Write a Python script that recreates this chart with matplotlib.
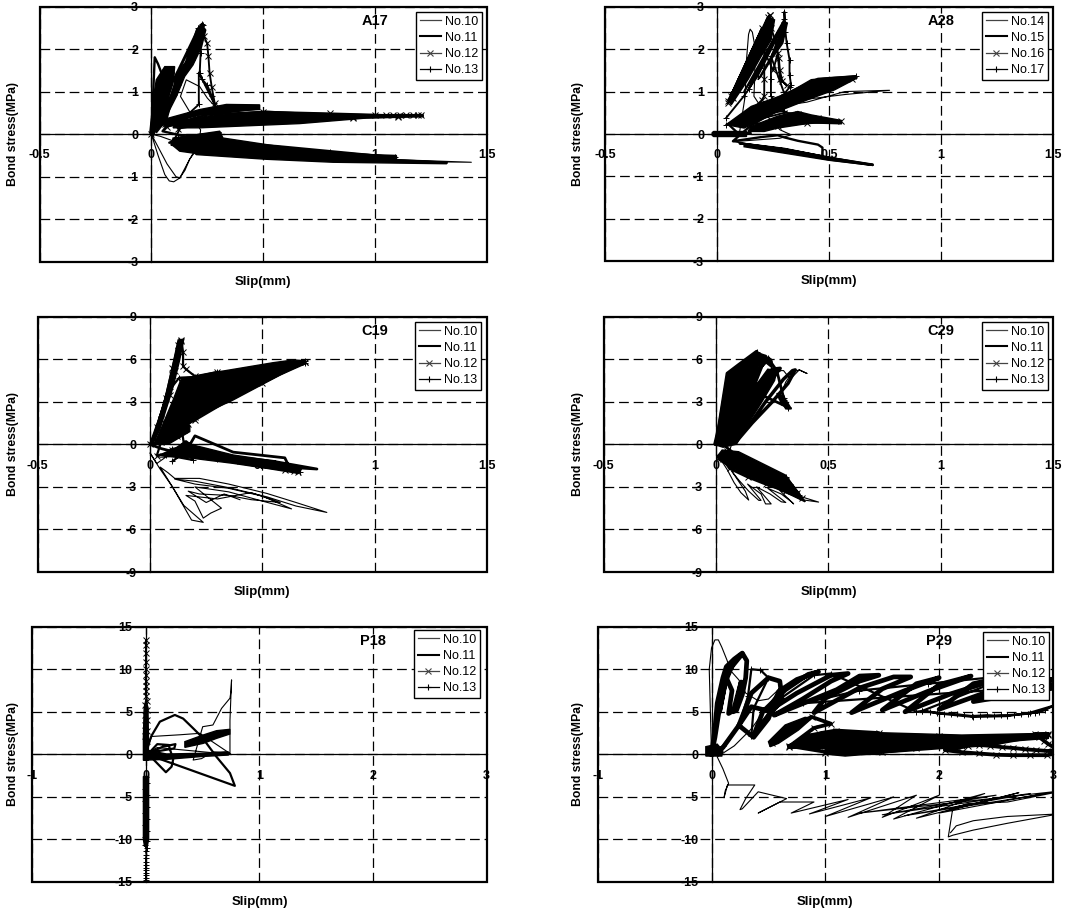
import matplotlib
matplotlib.use("Agg")
import matplotlib.pyplot as plt
from matplotlib.lines import Line2D
from matplotlib.patches import Rectangle

plt.rcParams['font.family'] = ['Liberation Sans', 'DejaVu Sans']
plt.rcParams['axes.unicode_minus'] = False
plt.rcParams['lines.scale_dashes'] = False

W, H = 1089, 913

# ---- A17
a17_x10 = [0, .03, .06, .08, .10, .127, .15, .171, .19, .24, .12, .04, 0, .02, .07, .11, .127, .171, .19, .45, .8, 1.1, 1.43, 1.1, .8, .45, .21, .22, .13, .156, .216, .25, .28]
a17_y10 = [0, -.5, -.95, -1.1, -1.12, -1.03, -.85, -.59, -.42, -.3, -.2, -.05, 0, -.2, -.7, -1.0, -1.03, -.59, -.45, -.52, -.6, -.64, -.66, -.6, -.53, -.45, -.38, .1, .89, 1.28, 1.12, .85, .68]
a17_x11 = [0, .015, .03, .055, .02, .045, .06, .03, .065, .08, .04, .09, .1, .05, .12, .06, .2, .48, .2, .07, .25, .47, .25, .07, .05, .15, .31, .12, .08, .3, .56, .9, 1.095, .9, .56, .3, .09, .3, .56, .9, 1.32, .9, .56, .3, .127]
a17_y11 = [0, 1.81, 1.65, 1.3, .4, 1.4, 1.55, .4, 1.5, 1.55, .4, 1.55, 1.45, .35, 1.4, .2, .48, .66, .52, .28, .52, .6, .46, .2, .07, -.05, .03, -.12, -.2, -.18, -.28, -.45, -.55, -.48, -.36, -.27, -.25, -.32, -.44, -.56, -.67, -.6, -.5, -.38, -.37]
a17_x12 = [0, .05, .1, .15, .224, .235, .249, .255, .26, .27, .283, .29, .06, .2, .5, .8, 1.0, 1.05, 1.08, 1.11, 1.14, 1.17, 1.19, 1.207, 1.1, .8, .5, .2, .07, .3, .6, .9, 1.1, .9, .6, .3, .12]
a17_y12 = [0, .5, 1.0, 1.6, 2.5, 2.3, 2.14, 1.83, 1.45, 1.1, .73, .6, .25, .45, .53, .49, .46, .45, .45, .45, .45, .45, .445, .445, .43, .43, .46, .36, .18, .38, .42, .41, .41, .38, .36, .3, .13]
a17_x13 = [0, .1, .224, .12, .05, .14, .21, .1, .07, .11, .22, .16, .23, .18, .215, .225, .224, .22, .216, .225, .25, .27, .28, .212, .212, .16, .1, .5, .8, 1.09, .8, .5, .2, .12]
a17_y13 = [0, .95, 2.55, 1.15, .3, 1.5, 2.5, 1.3, 1.05, 1.35, 2.55, 1.55, 2.58, 1.75, 2.35, 2.6, 2.5, 1.9, 1.44, 1.3, 1.15, .9, .73, 1.45, .7, .45, -.15, -.28, -.42, -.53, -.47, -.35, -.22, -.1]
# dense overplotted regions traced as outlines
a17_rise_x = [.022, .067, .097, .112, .156, .201, .224, .243, .224, .186, .149, .112, .082, .052, .022]
a17_rise_y = [.07, .66, .97, 1.44, 1.71, 2.45, 2.59, 2.45, 2.05, 1.63, 1.36, .89, .58, .23, .03]
a17_fan_x = [-.007, .01, .022, .06, .104, .097, .067, .037, .007]
a17_fan_y = [.03, .89, 1.28, 1.59, 1.59, 1.2, .73, .27, -.05]
a17_up_x = [.022, .216, .335, .484, .484, .335, .216, .037]
a17_up_y = [.3, .58, .7, .69, .58, .54, .46, .19]
a17_mid_x = [.112, .29, .514, .663, .961, 1.215, 1.215, .961, .663, .44, .216, .097]
a17_mid_y = [.3, .46, .54, .5, .46, .46, .41, .38, .25, .2, .15, .15]
a17_neg_x = [.097, .305, .32, .559, .812, 1.095, 1.095, 1.32, 1.32, .812, .514, .201, .194, .127, .09]
a17_neg_y = [-.09, .07, -.09, -.28, -.45, -.5, -.61, -.66, -.695, -.66, -.59, -.48, -.45, -.4, -.24]

# ---- A28
a28_x14 = [0, .1, .125, .13, .14, .147, .157, .167, .168, .164, .2, .4, .57, .77, .57, .4, .2, .28, .33, .28, .07, .35, .695]
a28_y14 = [0, .05, .9, 1.7, 2.35, 2.47, 2.4, 2.1, 1.4, .89, .6, .75, 1.0, 1.03, .93, .82, .55, .1, -.02, -.1, -.18, -.4, -.73]
a28_x15 = [-.02, .12, -.02, .15, -.02, .1, .05, .3, .45, .62, .45, .3, .1, .3, .45, .62, .45, .3, .15, .07, .2, .27, .3, .36, .4, .45, .47, .47, .465, .3, .1, .3, .5, .695, .5, .3, .13]
a28_y15 = [0, 0, .03, .02, -.03, -.02, .23, .93, 1.3, 1.36, 1.2, .86, .25, .8, 1.1, 1.33, .95, .65, .2, -.17, -.07, -.03, -.08, -.16, -.2, -.25, -.32, -.5, -.52, -.36, -.22, -.35, -.56, -.73, -.6, -.4, -.25]
a28_x16 = [.048, .234, .06, .2, .05, .225, .07, .234, .24, .26, .275, .28, .29, .31, .28, .27, .25, .21, .21, .21, .2, .1, .27, .4, .553, .45, .36, .3, .15, .3, .45, .6, .45, .3]
a28_y16 = [.73, 2.8, .9, 2.5, .78, 2.75, .85, 2.8, 2.5, 2.2, 1.8, 1.5, 1.25, 1.15, 1.3, 1.9, 1.5, 1.95, 1.3, .9, .8, .3, .2, .25, .3, .38, .48, .5, .3, .72, 1.02, 1.3, 1.1, .75]
a28_x17 = [.04, .12, .18, .3, .19, .14, .25, .3, .2, .12, .3, .3, .305, .31, .323, .323, .33, .323, .30, .24, .24, .24, .3, .15, .04, .3, .45, .62, .45, .3, .15]
a28_y17 = [.38, .9, 1.36, 2.61, 1.55, 1.05, 2.2, 2.65, 1.65, 1.0, 2.7, 2.88, 2.4, 2.15, 1.75, 1.4, 1.15, 1.1, .95, 1.83, 1.3, .89, .55, .4, .22, .78, 1.15, 1.36, 1.25, .88, .45]
a28_left_x = [.048, .107, .182, .226, .256, .241, .196, .137, .063]
a28_left_y = [.81, 1.28, 2.14, 2.77, 2.69, 2.22, 1.83, 1.28, .69]
a28_right_x = [.182, .241, .301, .313, .293, .241, .196]
a28_right_y = [1.28, 1.83, 2.65, 2.61, 2.14, 1.75, 1.36]
a28_big_x = [.04, .152, .315, .42, .494, .62, .625, .524, .405, .27, .12]
a28_big_y = [.22, .65, .96, 1.28, 1.32, 1.37, 1.32, 1.04, .81, .53, .14]
a28_low_x = [.152, .27, .36, .42, .554, .556, .42, .27, .21, .137]
a28_low_y = [.18, .42, .53, .45, .32, .24, .26, .14, .06, .06]
a28_bar_x = [-.02, .13, .13, -.02]
a28_bar_y = [.06, .06, -.05, -.05]
a28_neg_x = [.12, .5, .695, .695, .5, .12]
a28_neg_y = [-.25, -.55, -.71, -.74, -.62, -.3]

# ---- C19
c19_x10 = [.03, .043, .07, .03, 0, .043, .1, .15, .237, .185, .1, .045, .08, .11, .22, .35, .52, .65, .787, .65, .52, .35, .2, .11, .2, .35, .5, .63, .5, .35, .2, .318, .27, .237, .2, .16, .3, .45, .58, .45, .35, .22, .17, .25, .33, .4]
c19_y10 = [-.75, -.9, -.9, -1.35, -.6, -1.7, -3.0, -4.3, -5.5, -5.34, -3.0, -1.6, -2.0, -2.4, -2.4, -2.8, -3.46, -4.1, -4.8, -4.35, -3.7, -3.05, -2.6, -2.45, -2.8, -3.1, -3.65, -4.55, -4.0, -3.35, -3.0, -4.5, -4.85, -5.2, -4.0, -3.6, -3.85, -3.4, -4.1, -3.9, -3.6, -3.5, -3.3, -4.1, -3.5, -3.9]
c19_x11 = [0, .05, .1, .16, .2, .37, .55, .743, .55, .37, .16, .2, .37, .6, .62, .55, .4, .3, .2, .19]
c19_y11 = [0, -.3, -.5, .2, -.3, -.87, -1.2, -1.74, -1.55, -1.1, -.5, .6, -.55, -.95, -1.6, -1.2, -1.15, -.95, -.7, -.3]
c19_x12 = [0, .05, .09, .11, .125, .14, .125, .1, .07, .03, .1, .14, .147, .147, .16, .2, .3, .4, .55, .69, .5, .35, .2, .06, .2, .35, .5, .69, .5, .35, .2, .1, .05, .1, .15, .17, .12, .05, .03, .1, .3, .5, .62, .64, .66, .6, .4, .2, .1]
c19_y12 = [0, 1.8, 3.5, 5.2, 6.6, 7.36, 7.0, 5.4, 3.3, 1.2, 4.9, 7.3, 6.5, 5.5, 5.3, 4.8, 5.1, 5.0, 5.4, 5.83, 4.6, 3.4, 1.9, .5, 3.0, 4.0, 4.9, 5.8, 4.3, 3.1, 1.7, .9, .5, .6, 1.0, 1.4, .6, .2, -.8, -.55, -.85, -1.25, -1.7, -1.85, -1.95, -1.8, -1.2, -.75, -.4]
c19_x13 = [0, .02, .09, .13, .2, .3, .45, .6, .69, .5, .35, .2, .09, .03, .09, .18, .3, .45, .6, .69, .45, .3, .18, .1, .06, .14, .15, .19, .07, .1, .16, .3, .5, .668, .5, .3, .14, .1]
c19_y13 = [0, .3, 3.9, 4.7, 4.75, 5.1, 5.1, 5.65, 5.85, 4.4, 3.2, 1.85, 1.0, .3, 2.2, 3.6, 4.5, 4.7, 5.3, 5.75, 4.15, 2.85, 1.7, .6, .4, 1.2, .1, -1.1, -.75, -.3, -.4, -.85, -1.3, -1.93, -1.6, -1.05, -.7, -1.2]
c19_rise_x = [0, .058, .103, .125, .15, .132, .103, .043, .013]
c19_rise_y = [.07, 2.66, 5.72, 7.36, 7.41, 5.95, 4.07, 1.01, .07]
c19_main_x = [.028, .103, .14, .222, .311, .549, .638, .69, .69, .579, .37, .192, .028]
c19_main_y = [.3, 3.13, 4.66, 4.82, 5.13, 5.76, 5.95, 5.9, 5.67, 4.89, 3.13, 1.83, .19]
c19_small_x = [.013, .103, .177, .177, .088]
c19_small_y = [.07, 1.0, 1.36, .9, .07]
c19_neg_x = [.043, .162, .37, .519, .676, .66, .519, .37, .132, .073]
c19_neg_y = [-.75, .07, -.75, -1.1, -1.69, -2.05, -1.69, -1.34, -.87, -.87]

# ---- C29
c29_x10 = [.012, .03, .05, .08, .11, .145, .13, .07, .1, .145, .19, .2, .14, .2, .22, .245, .18, .24, .29, .31, .23, .29, .335, .345, .28, .34, .38, .456, .38, .3, .2, .1, .05, .08, .12, .18, .25, .3, .33, .37, .404, .37, .34, .31, .28]
c29_y10 = [-.87, -1.3, -1.8, -2.7, -3.4, -3.93, -3.3, -1.9, -2.5, -3.3, -3.95, -3.95, -2.8, -3.5, -4.2, -4.2, -3.0, -3.5, -4.05, -4.1, -3.1, -3.5, -4.05, -4.2, -3.2, -3.6, -3.9, -4.07, -3.7, -3.0, -2.3, -1.4, -.9, .5, 2.0, 3.8, 5.2, 5.2, 4.6, 5.25, 5.0, 5.25, 5.1, 4.4, 3.2]
c29_x11 = [0, .02, .05, .1, .18, .15, .1, .04, .02, .08, .14, .2, .22, .17, .1, .05, .06, .12, .19, .234, .2, .14, .08, .1, .16, .25, .285, .25, .18, .11, .14, .22, .3, .34, .352, .32, .25, .16, .09]
c29_y11 = [0, 2.0, 5.0, 5.6, 6.54, 5.0, 3.3, 1.0, .2, 3.1, 5.3, 6.3, 6.2, 4.2, 2.2, .5, .3, 3.0, 5.3, 6.07, 5.5, 3.7, 1.0, 1.5, 3.8, 5.3, 5.36, 4.6, 3.1, 1.1, 1.2, 3.0, 4.6, 5.2, 5.25, 4.3, 3.0, 1.5, .2]
c29_x12 = [.012, .06, .14, .22, .31, .38, .31, .22, .14, .06, .03, .12, .22, .31, .36, .28, .2, .1, .05]
c29_y12 = [-.87, -1.25, -1.9, -2.5, -3.0, -3.75, -3.3, -2.8, -2.3, -1.7, -1.0, -1.45, -2.05, -2.55, -3.4, -2.6, -2.15, -1.5, -.5]
c29_x13 = [0, .03, .09, .16, .18, .12, .06, .03, .1, .15, .23, .27, .3, .322, .3, .28, .29, .322, .2, .1, .03, .1, .2, .31, .37, .34, .26, .16, .08, .04]
c29_y13 = [0, 2.4, 4.3, 6.2, 6.5, 4.0, 1.5, .3, 3.8, 5.8, 6.1, 5.2, 3.3, 2.54, 3.1, 3.4, 3.0, 2.6, 3.5, 1.8, 0, -.9, -1.7, -2.3, -3.55, -3.0, -2.4, -2.0, -1.3, -.6]
c29_fan_x = [-.01, .012, .049, .182, .249, .249, .21, .19, .17, .23, .27, .26, .2, .16, .09, .03]
c29_fan_y = [0, 1.48, 5.01, 6.54, 5.88, 5.4, 5.9, 5.5, 4.0, 5.3, 5.2, 4.5, 2.9, 1.9, 0, -.2]
c29_neg_x = [.004, .027, .1, .308, .38, .396, .337, .219, .071, .012]
c29_neg_y = [-.87, -.4, -.52, -2.16, -3.69, -4.05, -3.6, -2.75, -1.7, -1.1]
c29_blob_x = [.27, .3, .335, .31, .29]
c29_blob_y = [3.6, 3.4, 2.5, 2.5, 3.0]

# ---- P18
p18_x10 = [0, .05, .3, .475, .74, .74, .754, .75, .74, .666, .59, .5, .416, .49, .59, .74, .74, .1, .02]
p18_y10 = [0, 2.1, 2.3, 2.47, .1, 4.0, 8.75, 7.5, 6.6, 5.4, 3.45, 3.25, -.67, -.5, .3, .1, 0, .8, .2]
p18_x11 = [.01, .03, .05, .123, .255, .328, .416, .49, .62, .74, .783, .03, .176, .226, .24, .2, .1, .03, .25, .26, .15, .03]
p18_y11 = [.5, 1.5, 2.2, 3.84, 4.63, 4.2, 3.06, 2.08, -.27, -2.2, -3.7, -.1, -2.1, -1.45, -.6, 1.1, 1.2, .2, .7, 1.2, .9, .2]
p18_x12 = [0, 0, 0, 0, 0, 0, 0, 0, 0, 0, .01, -.01, .01, -.01, .01, -.01, .01, -.01, .01, 0]
p18_y12 = [13.4, 12.8, 11.9, 10.8, 10.0, 9.3, 8.6, 8.0, 7.4, 6.9, 6.3, 5.8, 5.2, 4.6, 4.0, 3.4, 2.8, 2.2, 1.6, 0]
p18_x13 = [0, .01, -.01, .01, -.01, .01, -.01, .01, -.01, .01, -.01, .01, -.01, .01, 0, .005, 0, 0, 0, 0, 0, 0, 0, 0, 0, 0]
p18_y13 = [-2.7, -3.4, -4.1, -4.8, -5.5, -6.2, -6.9, -7.6, -8.3, -9.0, -9.7, -10.2, -10.6, -11.0, -11.4, -11.8, -12.2, -12.6, -13.0, -13.3, -13.6, -13.9, -14.2, -14.5, -14.8, -15.0]
p18_up_x = [-.015, 0, .018, .022, .022, -.022, -.022]
p18_up_y = [5.5, 6.4, 5.5, 2.0, -.7, -.7, 2.0]
p18_down_x = [-.022, .024, .024, .012, -.012, -.022]
p18_down_y = [-2.6, -2.6, -10.0, -10.8, -10.8, -10.0]
p18_arm_x = [.343, .504, .622, .739, .739, .622, .504, .343]
p18_arm_y = [1.49, 2.27, 2.78, 2.94, 2.39, 1.88, 1.29, .82]
p18_low_x = [.006, .182, .475, .724, .724, .475, .182, .006]
p18_low_y = [.51, .04, .12, .31, -.08, -.27, -.59, -.67]

# ---- P29
p29_x10 = [0, -.01, -.02, 0, .03, .06, .09, .135, .17, .24, .3, .41, .5, .62, .35, .2, .05, .1, .15, .12, .11, .14, .38, .3, .25, .27, .41, .66, .41, .6, .9, .7, 1.2, .86, 1.4, 1.0, 1.6, 1.2, 1.8, 1.5, 2.0, 1.6, 2.4, 1.8, 2.7, 2.0, 3.0, 1.3, 2.5, 1.5, 2.8, 1.7, 3.05, 2.6, 2.25, 2.12, 2.08, 2.12, 2.3, 2.6, 3.05, 2.6, 2.3, 2.15, 2.1]
p29_y10 = [0, 5, 10, 12.5, 13.45, 13.45, 12.6, 11.1, 9.8, 8.75, 7.2, 6.3, 6.5, 8.0, 3, 1, -.3, -1.7, -3.4, -4.3, -5.1, -3.6, -3.6, -5.2, -6.5, -6.4, -4.4, -5.2, -6.9, -5.6, -5.6, -6.9, -5.3, -7.0, -5.1, -7.3, -5.0, -7.4, -4.8, -7.4, -4.8, -7.6, -4.6, -7.5, -4.5, -6.9, -4.4, -6.9, -4.8, -7.1, -4.6, -7.2, -4.4, -5.6, -5.8, -6.3, -9.7, -9.5, -8.9, -8.1, -7.0, -7.3, -7.8, -8.4, -9.2]
p29_x11 = [0, .03, .05, .1, .13, .2, .27, .31, .3, .27, .22, .19, .26, .21, .15, .18, .13, .07, .12, .2, .27, .16, .1, .03, 0, .1, .24, .35, .5, .6, .62, .53, .35, .24, .37, .5, .59, .75, .94, .85, .65, .45, .37, .55, .75, 1.05, 1.2, 1.05, .8, .55, 1.1, 1.3, 1.47, 1.3, 1.0, .9, 1.3, 1.6, 1.75, 1.5, 1.23, 1.7, 2.0, 1.8, 1.5, 1.9, 2.28, 2.0, 1.7, 2.1, 2.6, 2.3, 2.0, 2.5, 3.0, 2.6, 2.3, 3.1]
p29_y11 = [0, 3, 6, 9, 10.3, 11.2, 11.9, 11, 9, 7, 5.2, 5, 8.5, 5.3, 4.8, 7.5, 9, 5, 8.5, 11, 11.8, 10, 8, 2, 0, .8, 3.4, 7.2, 9, 8.6, 6.4, 5, 5.6, 3.4, 2, 4.2, 7.4, 8.8, 9.7, 9.4, 7.6, 5, 2.2, 5.5, 7.2, 9.3, 9.5, 8.6, 6.5, 4.6, 7.6, 9.2, 9.3, 8.6, 6.6, 4.9, 7.8, 9.1, 9.1, 7.7, 4.9, 7.5, 9.0, 8.3, 5.2, 7.4, 9.2, 8.2, 5, 7.1, 9.2, 8.3, 5.3, 7.7, 8.8, 8, 6.2, 8]
p29_x12 = [.53, .7, .88, 1.05, .9, .68, .85, 1.09, 1.47, 1.1, .68, 1.0, 1.47, 2.0, 2.5, 2.96, 2.5, 1.8, 1.2, 1.0, 1.5, 2.2, 2.96, 2.84, 2.88, 2.92, 2.96, 3.0, 3.1, 2.95, 2.85, 2.75, 2.65, 2.55, 2.45, 2.35, 2.25, 2.15, 2.05, 2.2, 2.35, 2.5, 2.65, 2.8, 2.95, 3.05]
p29_y12 = [1.3, 3.3, 4.4, 3.6, 3.1, .9, 2.2, 2.8, 2.5, 1.6, 1.0, .3, 1.9, 2.1, 1.9, 2.4, 1.3, .8, .4, .2, .3, 1.0, 2.3, 2.4, 2.0, 1.6, 1.2, .9, .5, .4, .5, .6, .75, .85, 1.0, 1.1, 1.0, .7, .5, .25, .1, -.05, -.1, -.1, -.1, .2]
p29_x13 = [0, .1, .24, .32, .35, .43, .5, .37, .35, .6, .9, 1.05, 1.8, 1.85, 1.92, 1.98, 2.04, 2.1, 2.16, 2.22, 2.29, 2.36, 2.42, 2.48, 2.54, 2.6, 2.66, 2.72, 2.78, 2.84, 2.88, 2.93, 3.0, 2.8, 2.6, 2.3, 2.0, 1.85, 2.4, 3.0, 2.95, 3.05, .8, 1.3, 1.9, 2.5, 3.0]
p29_y13 = [0, 1, 3.4, 6.8, 10, 9.9, 9.0, 5.4, 2.2, 6.5, 9.3, 9.5, 5, 5.1, 5.0, 4.9, 4.8, 4.75, 4.7, 4.6, 4.5, 4.55, 4.6, 4.55, 4.6, 4.6, 4.65, 4.7, 4.8, 4.9, 5.0, 5.2, 5.7, 4.9, 4.5, 4.4, 4.8, 5.1, 8, 8, 8.5, 8.1, 6, 7.5, 8.3, 9.1, 8.2]
p29_low_x = [.676, .969, 1.086, 1.466, 2.198, 2.959, 2.959, 2.198, 1.759, 1.466, 1.174, .998, .998, .676]
p29_low_y = [1.1, 2.67, 2.78, 2.55, 2.27, 2.47, 1.88, 1.1, .51, .12, -.2, .04, .71, .71]
p29_loop_x = [.5, .647, .822, .881, .764, .588, .515]
p29_loop_y = [1.49, 3.45, 4.35, 4.24, 2.86, 1.29, .9]
p29_blob_x = [-.05, .05, .1, .09, -.05]
p29_blob_y = [.9, 1.2, .4, -.2, -.2]

x_ticks_a = [-0.5, 0, 0.5, 1, 1.5]
x_tick_labels_a = ['-0.5', '0', '0.5', '1', '1.5']
x_ticks_p = [-1, 0, 1, 2, 3]
y_ticks_a = [-3, -2, -1, 0, 1, 2, 3]
y_ticks_c = [-9, -6, -3, 0, 3, 6, 9]
y_ticks_p = [-15, -10, -5, 0, 5, 10, 15]
names_a28 = ['No.14', 'No.15', 'No.16', 'No.17']
names_rest = ['No.10', 'No.11', 'No.12', 'No.13']

# panel: name, pixel box (l, t, r, b), legend top-right pixel, band line width
panels = [
    ('A17', (39.5, 6.7, 487, 261.7), (482, 12), 1.7, x_ticks_a, y_ticks_a, names_rest,
     [(a17_x10, a17_y10), (a17_x11, a17_y11), (a17_x12, a17_y12), (a17_x13, a17_y13)],
     [(a17_rise_x, a17_rise_y), (a17_fan_x, a17_fan_y), (a17_up_x, a17_up_y), (a17_mid_x, a17_mid_y), (a17_neg_x, a17_neg_y)]),
    ('A28', (605.3, 6.7, 1053, 261.3), (1048, 12), 1.7, x_ticks_a, y_ticks_a, names_a28,
     [(a28_x14, a28_y14), (a28_x15, a28_y15), (a28_x16, a28_y16), (a28_x17, a28_y17)],
     [(a28_left_x, a28_left_y), (a28_right_x, a28_right_y), (a28_big_x, a28_big_y), (a28_low_x, a28_low_y), (a28_bar_x, a28_bar_y), (a28_neg_x, a28_neg_y)]),
    ('C19', (37.7, 316.7, 487, 572), (481, 322), 2.0, x_ticks_a, y_ticks_c, names_rest,
     [(c19_x10, c19_y10), (c19_x11, c19_y11), (c19_x12, c19_y12), (c19_x13, c19_y13)],
     [(c19_rise_x, c19_rise_y), (c19_main_x, c19_main_y), (c19_small_x, c19_small_y), (c19_neg_x, c19_neg_y)]),
    ('C29', (603.7, 316.7, 1053.3, 572), (1048, 322), 2.5, x_ticks_a, y_ticks_c, names_rest,
     [(c29_x10, c29_y10), (c29_x11, c29_y11), (c29_x12, c29_y12), (c29_x13, c29_y13)],
     [(c29_fan_x, c29_fan_y), (c29_neg_x, c29_neg_y), (c29_blob_x, c29_blob_y)]),
    ('P18', (32.3, 626.7, 486.7, 882), (480, 630), 1.6, x_ticks_p, y_ticks_p, names_rest,
     [(p18_x10, p18_y10), (p18_x11, p18_y11), (p18_x12, p18_y12), (p18_x13, p18_y13)],
     [(p18_up_x, p18_up_y), (p18_down_x, p18_down_y), (p18_arm_x, p18_arm_y), (p18_low_x, p18_low_y)]),
    ('P29', (597.7, 626.7, 1053, 882), (1049, 632), 3.4, x_ticks_p, y_ticks_p, names_rest,
     [(p29_x10, p29_y10), (p29_x11, p29_y11), (p29_x12, p29_y12), (p29_x13, p29_y13)],
     [(p29_low_x, p29_low_y), (p29_loop_x, p29_loop_y), (p29_blob_x, p29_blob_y)]),
]

fig = plt.figure(figsize=(W / 100, H / 100), dpi=100)

for i, (name, box, leg_pos, band_lw, xt, yt, names, series, fills) in enumerate(panels):
    l, t, r, b = box
    ax = fig.add_axes([l / W, 1 - b / H, (r - l) / W, (b - t) / H])
    ax.set_xlim(xt[0], xt[-1])
    ax.set_ylim(yt[0], yt[-1])
    ax.set_xticks(xt)
    ax.set_yticks(yt)
    if xt == x_ticks_a:
        ax.set_xticklabels(x_tick_labels_a)
    ax.grid(True, color='k', lw=0.9, linestyle=(0, (7, 3.5)))
    ax.set_axisbelow(True)

    ax.spines['left'].set_position(('data', 0))
    ax.spines['bottom'].set_position(('data', 0))
    ax.spines['top'].set_visible(False)
    ax.spines['right'].set_visible(False)
    for s in ['left', 'bottom']:
        ax.spines[s].set_linewidth(0.9)
    ax.add_patch(Rectangle((0, 0), 1, 1, transform=ax.transAxes, fill=False, ec='k', lw=1.6, clip_on=False, zorder=5))

    ax.tick_params(length=0, labelsize=9)
    ax.tick_params(axis='x', pad=11)
    ax.tick_params(axis='y', pad=9.5)
    for lab in ax.get_xticklabels() + ax.get_yticklabels():
        lab.set_fontweight('bold')

    for fx, fy in fills:
        ax.fill(fx, fy, color='k', lw=1.0)
    ax.plot(series[0][0], series[0][1], color='k', lw=0.8)
    ax.plot(series[1][0], series[1][1], color='k', lw=band_lw)
    ax.plot(series[2][0], series[2][1], color='k', lw=band_lw * 0.8, marker='x', ms=4, mew=0.7)
    ax.plot(series[3][0], series[3][1], color='k', lw=band_lw * 0.8 if name != 'P29' else 1.6, marker='+', ms=5, mew=0.7)

    ax.text(xt[3], 0.943, name, transform=ax.get_xaxis_transform(), ha='center', va='center',
            fontsize=10.5, fontweight='bold')

    lab_x = 19 if i % 2 == 0 else 584
    ax.set_xlabel('Slip(mm)', fontsize=9.5, fontweight='bold')
    ax.xaxis.set_label_coords(0.5, -14 / (b - t))
    ax.set_ylabel('Bond stress(MPa)', fontsize=8.8, fontweight='bold')
    ax.yaxis.set_label_coords((lab_x - l) / (r - l), 0.5)

    handles = [
        Line2D([], [], color='#444444', lw=0.9),
        Line2D([], [], color='k', lw=1.5),
        Line2D([], [], color='#444444', lw=0.9, marker='x', ms=4, mew=0.8),
        Line2D([], [], color='k', lw=0.9, marker='+', ms=5, mew=0.8),
    ]
    leg = ax.legend(handles, names, loc='upper right', bbox_to_anchor=(leg_pos[0] / W, 1 - leg_pos[1] / H),
                    bbox_transform=fig.transFigure, fontsize=9, fancybox=False, framealpha=1, edgecolor='k',
                    handlelength=1.65, handletextpad=0.35, labelspacing=0.33, borderaxespad=0, borderpad=0.3)
    leg.get_frame().set_linewidth(1.0)
    leg.set_zorder(10)

fig.savefig('out.png', dpi=100)
